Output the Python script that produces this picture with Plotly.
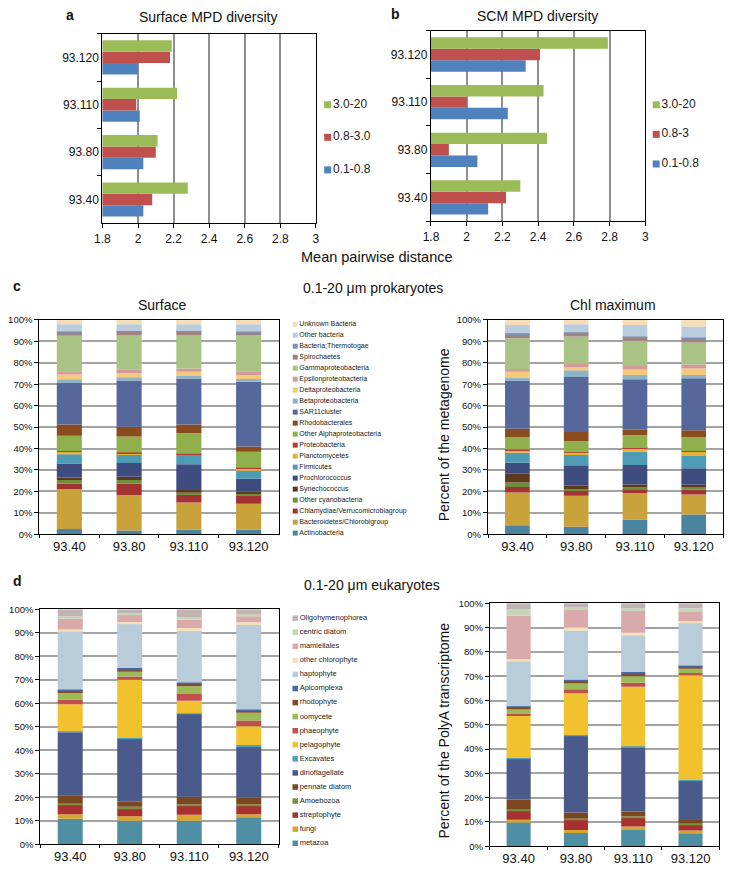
import numpy as np
import plotly.graph_objects as go

W, H = 734, 871
FONT = "Liberation Sans, Arial, Helvetica, sans-serif"

# ---------------- data: panels a / b (mean pairwise distance) ----------------
stations = ["93.40", "93.80", "93.110", "93.120"]
mpd_tickvals = [1.8, 2.0, 2.2, 2.4, 2.6, 2.8, 3.0]
mpd_ticktext = ["1.8", "2", "2.2", "2.4", "2.6", "2.8", "3"]

surface_size_names = ["0.1-0.8", "0.8-3.0", "3.0-20"]
scm_size_names = ["0.1-0.8", "0.8-3", "3.0-20"]
surface_01_08 = [2.03, 2.03, 2.01, 2.00]
surface_08_30 = [2.08, 2.10, 1.99, 2.18]
surface_30_20 = [2.28, 2.11, 2.22, 2.19]
scm_01_08 = [2.12, 2.06, 2.23, 2.33]
scm_08_30 = [2.22, 1.90, 2.00, 2.41]
scm_30_20 = [2.30, 2.45, 2.43, 2.79]
size_colors = ["#4F81BD", "#C0504D", "#9BBB59"]

# ---------------- data: panel c (prokaryotes), bottom -> top ----------------
prok_taxa = ["Actinobacteria", "Bacteroidetes/Chlorobigroup", "Chlamydiae/Verrucomicrobiagroup",
             "Other cyanobacteria", "Synechococcus", "Prochlorococcus", "Firmicutes",
             "Planctomycetes", "Proteobacteria", "Other Alphaproteobacteria", "Rhodobacterales",
             "SAR11cluster", "Betaproteobacteria", "Deltaproteobacteria", "Epsilonproteobacteria",
             "Gammaproteobacteria", "Spirochaetes", "Bacteria;Thermotogae", "Other bacteria",
             "Unknown Bacteria"]
prok_colors = ["#4A84A0", "#C9A23C", "#A33232", "#6F8F3A", "#5C3A1E", "#3E4C80", "#4E9BB5",
               "#E8B22E", "#B83B3B", "#8FB04A", "#8A4B1F", "#56689B", "#8DB3C7", "#F5C97A",
               "#D49A9A", "#A8C383", "#A0837F", "#7F8FB3", "#B9CDDD", "#F6DDB5"]
# Surface (percent of metagenome per taxon)
prok_surface_93_40 = [2.5, 18.5, 2.7, 1.6, 1.2, 6.5, 4.3, 1.2, 0.3, 7.2, 5.2, 19.4, 1.7, 2.3, 1.5, 16.5, 1.7, 0.3, 3.4, 2.0]
prok_surface_93_80 = [1.8, 16.5, 5.4, 1.6, 1.5, 6.5, 4.0, 0.6, 0.3, 7.4, 4.6, 21.6, 1.5, 2.0, 1.7, 15.8, 1.8, 0.3, 3.1, 2.0]
prok_surface_93_110 = [2.2, 12.6, 3.5, 1.1, 1.2, 12.1, 4.3, 0.3, 0.3, 9.5, 4.1, 21.5, 1.1, 2.0, 1.5, 15.5, 1.8, 0.3, 3.1, 2.0]
prok_surface_93_120 = [2.2, 12.0, 4.1, 0.8, 0.8, 6.0, 3.7, 1.1, 0.3, 7.5, 2.5, 30.2, 1.2, 1.9, 1.8, 16.7, 1.5, 0.3, 3.4, 2.0]
# Chl maximum
prok_chlmax_93_40 = [4.2, 15.3, 2.5, 2.2, 4.0, 5.2, 4.6, 1.2, 0.3, 5.9, 3.8, 22.6, 1.3, 2.7, 1.3, 14.4, 1.9, 0.4, 3.9, 2.3]
prok_chlmax_93_80 = [3.5, 14.5, 2.5, 0.6, 1.5, 9.6, 4.9, 0.9, 0.3, 5.2, 4.2, 25.7, 3.1, 1.5, 1.5, 12.8, 1.5, 0.5, 3.7, 2.0]
prok_chlmax_93_110 = [6.9, 12.3, 1.9, 0.9, 1.2, 9.1, 6.2, 1.5, 0.3, 5.9, 2.6, 23.5, 2.0, 2.6, 1.6, 11.8, 1.5, 0.5, 5.4, 2.3]
prok_chlmax_93_120 = [9.2, 9.3, 2.3, 1.2, 1.1, 7.7, 5.7, 2.0, 0.4, 6.5, 3.1, 24.3, 1.5, 3.1, 1.8, 10.3, 1.7, 0.6, 5.1, 3.1]

# ---------------- data: panel d (eukaryotes), bottom -> top ----------------
euk_taxa = ["metazoa", "fungi", "streptophyte", "Amoebozoa", "pennate diatom", "dinoflagellate",
            "Excavates", "pelagophyte", "phaeophyte", "oomycete", "rhodophyte", "Apicomplexa",
            "haptophyte", "other chlorophyte", "mamiellales", "centric diatom", "Oligohymenophorea"]
euk_colors = ["#4F8FA3", "#D9A531", "#A83030", "#77923C", "#7A4720", "#4A5A8A", "#4FA0BE",
              "#F2C12E", "#C0504D", "#9BBB59", "#8A4A1E", "#4A67A8", "#B8CCD9", "#F6E0B8",
              "#D9A9AC", "#C5D6B4", "#BFB3B3"]
euk_surface_93_40 = [10.9, 1.9, 4.2, 0.4, 3.5, 26.8, 0.4, 11.5, 2.0, 2.8, 1.1, 0.5, 24.7, 0.7, 4.6, 0.9, 3.1]
euk_surface_93_80 = [10.0, 1.9, 3.4, 0.7, 2.1, 26.8, 0.4, 24.7, 1.4, 2.0, 0.9, 0.7, 18.9, 0.7, 3.0, 0.7, 1.7]
euk_surface_93_110 = [10.0, 2.6, 3.9, 0.5, 3.2, 35.3, 0.3, 5.3, 2.8, 3.3, 1.1, 0.7, 21.9, 1.1, 3.5, 1.0, 3.5]
euk_surface_93_120 = [11.5, 1.3, 3.5, 0.7, 2.8, 21.8, 0.6, 8.0, 2.5, 3.3, 0.9, 0.6, 35.8, 1.2, 2.5, 1.0, 2.0]
euk_chlmax_93_40 = [9.8, 1.1, 3.6, 0.6, 4.1, 16.9, 0.2, 17.3, 0.9, 1.8, 1.0, 0.3, 18.6, 0.8, 18.0, 2.7, 2.3]
euk_chlmax_93_80 = [5.5, 1.2, 4.1, 0.6, 2.5, 31.6, 0.3, 17.2, 1.6, 2.4, 1.1, 0.5, 20.2, 1.4, 7.1, 1.0, 1.7]
euk_chlmax_93_110 = [6.7, 1.4, 3.5, 0.8, 1.9, 26.5, 0.4, 24.5, 1.6, 2.7, 1.1, 0.6, 15.2, 1.0, 9.0, 1.1, 2.0]
euk_chlmax_93_120 = [5.4, 1.1, 2.4, 0.5, 1.4, 16.1, 0.4, 43.1, 0.9, 1.8, 0.9, 0.4, 17.5, 0.7, 3.8, 1.6, 2.0]

prok_surface = [prok_surface_93_40, prok_surface_93_80, prok_surface_93_110, prok_surface_93_120]
prok_chlmax = [prok_chlmax_93_40, prok_chlmax_93_80, prok_chlmax_93_110, prok_chlmax_93_120]
euk_surface = [euk_surface_93_40, euk_surface_93_80, euk_surface_93_110, euk_surface_93_120]
euk_chlmax = [euk_chlmax_93_40, euk_chlmax_93_80, euk_chlmax_93_110, euk_chlmax_93_120]

# ---------------- helpers ----------------
def dx(a, b):
    return [a / W, b / W]

def dy(top, bottom):
    return [1 - bottom / H, 1 - top / H]

fig = go.Figure()

# panels a / b : grouped horizontal bars
for (vals, names, ax) in [
    ([surface_01_08, surface_08_30, surface_30_20], surface_size_names, ("x", "y")),
    ([scm_01_08, scm_08_30, scm_30_20], scm_size_names, ("x2", "y2")),
]:
    for v, n, c in zip(vals, names, size_colors):
        fig.add_trace(go.Bar(x=v, y=stations, orientation="h", name=n, marker_color=c,
                             marker_line_width=0, xaxis=ax[0], yaxis=ax[1], showlegend=False,
                             base=0))

# panels c / d : stacked bars (base = cumulative sum of segments)
def add_stack(station_lists, names, colors, xa, ya):
    vals = np.array(station_lists, dtype=float)
    base = np.cumsum(vals, axis=1) - vals
    for i, name in enumerate(names):
        fig.add_trace(go.Bar(x=stations, y=vals[:, i], base=base[:, i], name=name,
                             marker_color=colors[i], marker_line_width=0, width=0.42,
                             offset=-0.21, xaxis=xa, yaxis=ya, showlegend=False))

add_stack(prok_surface, prok_taxa, prok_colors, "x3", "y3")
add_stack(prok_chlmax, prok_taxa, prok_colors, "x4", "y4")
add_stack(euk_surface, euk_taxa, euk_colors, "x5", "y5")
add_stack(euk_chlmax, euk_taxa, euk_colors, "x6", "y6")

# custom legends (markers + text on their own index axes)
def add_legend(names, colors, xa, ya, size, fsize):
    names_top = list(reversed(names))
    colors_top = list(reversed(colors))
    fig.add_trace(go.Scatter(x=[0] * len(names_top), y=list(range(len(names_top))),
                             mode="markers+text", text=names_top, textposition="middle right",
                             textfont=dict(size=fsize, color="#222", family=FONT),
                             marker=dict(symbol="square", size=size, color=colors_top),
                             xaxis=xa, yaxis=ya, showlegend=False, hoverinfo="skip",
                             cliponaxis=False))

add_legend(surface_size_names, size_colors, "x7", "y7", 7, 12)
add_legend(scm_size_names, size_colors, "x8", "y8", 7, 12)
add_legend(prok_taxa, prok_colors, "x9", "y9", 5, 7)
add_legend(euk_taxa, euk_colors, "x10", "y10", 5.5, 7.5)

frame = dict(showline=True, mirror=True, linecolor="black", linewidth=1.3,
             tickfont=dict(size=12, color="#111", family=FONT), zeroline=False)

def mpd_x(dom):
    return dict(domain=dom, range=[1.8, 3.0], tickvals=mpd_tickvals, ticktext=mpd_ticktext,
                showgrid=True, gridcolor="#8f8f8f", gridwidth=1.5, ticks="outside",
                ticklen=4, tickcolor="black", **frame)

def mpd_y(dom, anchor):
    return dict(domain=dom, anchor=anchor, type="category", categoryorder="array",
                categoryarray=stations, tickson="boundaries", ticks="outside", ticklen=4,
                tickcolor="black", showgrid=False, **frame)

def pct_y(dom, anchor):
    f = dict(frame)
    f["tickfont"] = dict(size=9.5, color="#111", family=FONT)
    return dict(domain=dom, anchor=anchor, range=[0, 100], dtick=10, ticksuffix="%",
                showgrid=True, gridcolor="#a3a3a3", gridwidth=1.5, ticks="outside",
                ticklen=4, tickcolor="black", **f)

def cat_x(dom, anchor):
    f = dict(frame)
    f["tickfont"] = dict(size=13, color="#111", family=FONT)
    return dict(domain=dom, anchor=anchor, type="category", categoryorder="array",
                categoryarray=stations, tickson="boundaries", ticks="outside", ticklen=3,
                tickcolor="black", showgrid=False, **f)

def leg_x(dom, anchor):
    return dict(domain=dom, anchor=anchor, range=[0, 10], visible=False, fixedrange=True)

def leg_y(dom, anchor, n):
    return dict(domain=dom, anchor=anchor, range=[n - 0.5, -0.5], visible=False, fixedrange=True)

layout = dict(
    width=W, height=H, margin=dict(l=0, r=0, t=0, b=0),
    paper_bgcolor="white", plot_bgcolor="white",
    font=dict(family=FONT, color="#111"),
    barmode="group", bargap=0.28, bargroupgap=0,
    xaxis=mpd_x(dx(96, 313)), yaxis=mpd_y(dy(28, 220), "x"),
    xaxis2=dict(mpd_x(dx(430, 648)), anchor="y2"), yaxis2=mpd_y(dy(25, 218), "x2"),
    xaxis3=cat_x(dx(32, 275), "y3"), yaxis3=pct_y(dy(318, 535), "x3"),
    xaxis4=cat_x(dx(488, 727), "y4"), yaxis4=pct_y(dy(318, 535), "x4"),
    xaxis5=cat_x(dx(33, 275), "y5"), yaxis5=pct_y(dy(611, 849), "x5"),
    xaxis6=cat_x(dx(490, 723), "y6"), yaxis6=pct_y(dy(605, 851), "x6"),
    xaxis7=leg_x(dx(325, 400), "y7"), yaxis7=leg_y(dy(83.5, 182.5), "x7", 3),
    xaxis8=leg_x(dx(659, 734), "y8"), yaxis8=leg_y(dy(85, 175), "x8", 3),
    xaxis9=leg_x(dx(292, 380), "y9"), yaxis9=leg_y(dy(316.7, 539.4), "x9", 20),
    xaxis10=leg_x(dx(292, 380), "y10"), yaxis10=leg_y(dy(612.9, 855.1), "x10", 17),
)
layout["xaxis"]["anchor"] = "y"

def ann(text, x, y, size, bold=False, angle=0, xanchor="center"):
    return dict(text=f"<b>{text}</b>" if bold else text, x=x / W, y=1 - y / H,
                xref="paper", yref="paper", showarrow=False, xanchor=xanchor,
                yanchor="middle", textangle=angle,
                font=dict(size=size, family=FONT, color="#111"))

layout["annotations"] = [
    ann("a", 57, 9, 14, bold=True, xanchor="left"),
    ann("Surface MPD diversity", 203, 11, 14),
    ann("b", 387, 8, 14, bold=True, xanchor="left"),
    ann("SCM MPD diversity", 538, 10, 14),
    ann("Mean pairwise distance", 375, 254, 14.5),
    ann("c", 3, 284, 14, bold=True, xanchor="left"),
    ann("0.1-20 \u03bcm prokaryotes", 371, 286, 14),
    ann("Surface", 157, 303, 14),
    ann("Chl maximum", 615, 303, 14),
    ann("Percent of the metagenome", 443, 434, 14, angle=-90),
    ann("d", 3, 582, 14, bold=True, xanchor="left"),
    ann("0.1-20 \u03bcm eukaryotes", 370, 586, 14),
    ann("Percent of the PolyA transcriptome", 443, 734, 14, angle=-90),
]

fig.update_layout(**layout)
fig.write_html("out.html", config={"displayModeBar": False},
               post_script="document.body.style.margin='0';document.body.style.overflow='hidden';")
